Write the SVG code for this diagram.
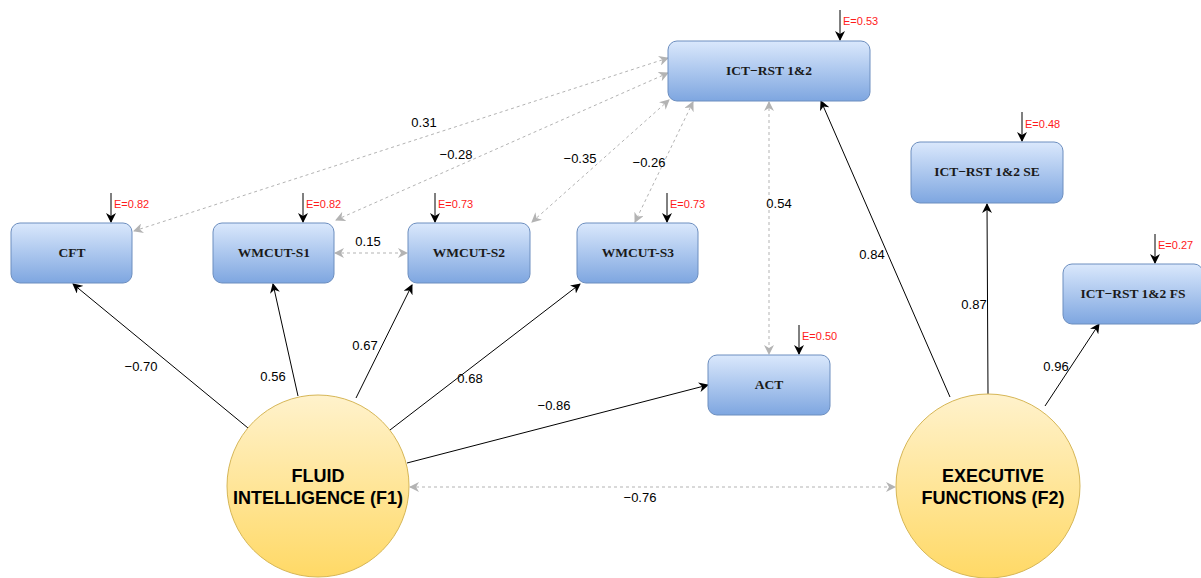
<svg xmlns="http://www.w3.org/2000/svg" width="1201" height="578" viewBox="0 0 1201 578">
  <defs>
    <linearGradient id="boxFill" x1="0" y1="0" x2="0" y2="1">
      <stop offset="0" stop-color="#dae8fc"/>
      <stop offset="1" stop-color="#7ea6e0"/>
    </linearGradient>
    <linearGradient id="factorFill" x1="0" y1="0" x2="0" y2="1">
      <stop offset="0" stop-color="#fff2cc"/>
      <stop offset="1" stop-color="#ffd966"/>
    </linearGradient>
    <marker id="arrowBlack" viewBox="0 0 10 10" refX="9" refY="5" markerWidth="10" markerHeight="10" markerUnits="userSpaceOnUse" orient="auto">
      <path d="M0,0 L10,5 L0,10 L3,5 Z" fill="#000"/>
    </marker>
    <marker id="arrowGray" viewBox="0 0 10 10" refX="9" refY="5" markerWidth="10" markerHeight="10" markerUnits="userSpaceOnUse" orient="auto-start-reverse">
      <path d="M0,0 L10,5 L0,10 L3,5 Z" fill="#b3b3b3"/>
    </marker>
  </defs>
  <style>
    .box { fill: url(#boxFill); stroke: #6c8ebf; stroke-width: 1; }
    .factor { fill: url(#factorFill); stroke: #d6b656; stroke-width: 1; }
    .boxText { font-family: "Liberation Serif", "Times New Roman", serif; font-weight: bold; font-size: 13.5px; fill: #1a1a1a; text-anchor: middle; }
    .factorText { font-family: "Liberation Sans", Arial, sans-serif; font-weight: bold; font-size: 18px; fill: #000; text-anchor: middle; }
    .path { stroke: #000; stroke-width: 1; fill: none; marker-end: url(#arrowBlack); }
    .cov { stroke: #b3b3b3; stroke-width: 1; stroke-dasharray: 3 3; fill: none; marker-start: url(#arrowGray); marker-end: url(#arrowGray); }
    .err { stroke: #000; stroke-width: 1; fill: none; marker-end: url(#arrowBlack); }
    .lbl { font-family: "Liberation Sans", Arial, sans-serif; font-size: 13px; fill: #000; text-anchor: middle; }
    .elbl { font-family: "Liberation Sans", Arial, sans-serif; font-size: 11px; fill: #ff1a1a; }
  </style>

  <!-- connectors -->
  <g id="connectors">
    <!-- covariances -->
    <line class="cov" x1="668" y1="58" x2="134" y2="231"/>
    <line class="cov" x1="668" y1="73" x2="336" y2="220"/>
    <line class="cov" x1="669" y1="100" x2="532" y2="222"/>
    <line class="cov" x1="693" y1="102" x2="635" y2="222"/>
    <line class="cov" x1="769" y1="102" x2="769" y2="354"/>
    <line class="cov" x1="335" y1="253" x2="407" y2="253"/>
    <line class="cov" x1="410" y1="487" x2="895" y2="487"/>
    <!-- loadings of F1 -->
    <line class="path" x1="248" y1="428" x2="73" y2="284"/>
    <line class="path" x1="298" y1="396" x2="273" y2="284"/>
    <line class="path" x1="356" y1="398" x2="412" y2="285"/>
    <line class="path" x1="390" y1="430" x2="580" y2="284"/>
    <line class="path" x1="407" y1="463" x2="708" y2="385"/>
    <!-- loadings of F2 -->
    <line class="path" x1="950" y1="397" x2="821" y2="101"/>
    <line class="path" x1="988" y1="394" x2="987" y2="204"/>
    <line class="path" x1="1045" y1="406" x2="1099" y2="324"/>
    <!-- residual errors -->
    <line class="err" x1="840" y1="10" x2="840" y2="40"/>
    <line class="err" x1="111" y1="193" x2="111" y2="222"/>
    <line class="err" x1="303" y1="193" x2="303" y2="222"/>
    <line class="err" x1="435" y1="193" x2="435" y2="222"/>
    <line class="err" x1="667" y1="193" x2="667" y2="222"/>
    <line class="err" x1="1022" y1="112" x2="1022" y2="141"/>
    <line class="err" x1="1155" y1="234" x2="1155" y2="263"/>
    <line class="err" x1="799" y1="325" x2="799" y2="354"/>
    <!-- coefficient labels -->
    <text class="lbl" x="424" y="127">0.31</text>
    <text class="lbl" x="456" y="159">−0.28</text>
    <text class="lbl" x="580" y="163">−0.35</text>
    <text class="lbl" x="649" y="167">−0.26</text>
    <text class="lbl" x="779" y="208">0.54</text>
    <text class="lbl" x="368" y="246">0.15</text>
    <text class="lbl" x="141" y="371">−0.70</text>
    <text class="lbl" x="273" y="381">0.56</text>
    <text class="lbl" x="365" y="350">0.67</text>
    <text class="lbl" x="470" y="383">0.68</text>
    <text class="lbl" x="554" y="410">−0.86</text>
    <text class="lbl" x="640" y="502">−0.76</text>
    <text class="lbl" x="872" y="259">0.84</text>
    <text class="lbl" x="974" y="309">0.87</text>
    <text class="lbl" x="1056" y="371">0.96</text>
    <!-- error labels -->
    <text class="elbl" x="843" y="25">E=0.53</text>
    <text class="elbl" x="114" y="208">E=0.82</text>
    <text class="elbl" x="306" y="208">E=0.82</text>
    <text class="elbl" x="438" y="208">E=0.73</text>
    <text class="elbl" x="670" y="208">E=0.73</text>
    <text class="elbl" x="1025" y="128">E=0.48</text>
    <text class="elbl" x="1158" y="249">E=0.27</text>
    <text class="elbl" x="802" y="340">E=0.50</text>
  </g>

  <g id="node-ict">
    <rect class="box" x="668" y="41" width="202" height="60" rx="9"/>
    <text class="boxText" x="769" y="75">ICT−RST 1&amp;2</text>
  </g>
  <g id="node-cft">
    <rect class="box" x="11" y="223" width="121" height="60" rx="9"/>
    <text class="boxText" x="72" y="257">CFT</text>
  </g>
  <g id="node-wmcut-s1">
    <rect class="box" x="213" y="223" width="121" height="60" rx="9"/>
    <text class="boxText" x="274" y="257">WMCUT-S1</text>
  </g>
  <g id="node-wmcut-s2">
    <rect class="box" x="408" y="223" width="122" height="60" rx="9"/>
    <text class="boxText" x="469" y="257">WMCUT-S2</text>
  </g>
  <g id="node-wmcut-s3">
    <rect class="box" x="577" y="223" width="121" height="60" rx="9"/>
    <text class="boxText" x="638" y="257">WMCUT-S3</text>
  </g>
  <g id="node-ict-se">
    <rect class="box" x="911" y="142" width="152" height="61" rx="9"/>
    <text class="boxText" x="987" y="176">ICT−RST 1&amp;2 SE</text>
  </g>
  <g id="node-ict-fs">
    <rect class="box" x="1063" y="264" width="140" height="60" rx="9"/>
    <text class="boxText" x="1133" y="298">ICT−RST 1&amp;2 FS</text>
  </g>
  <g id="node-act">
    <rect class="box" x="708" y="355" width="122" height="60" rx="9"/>
    <text class="boxText" x="769" y="389">ACT</text>
  </g>
  <g id="node-f1">
    <circle class="factor" cx="318" cy="486" r="91"/>
    <text class="factorText" x="318" y="482">FLUID</text>
    <text class="factorText" x="318" y="504">INTELLIGENCE (F1)</text>
  </g>
  <g id="node-f2">
    <circle class="factor" cx="988" cy="486" r="92"/>
    <text class="factorText" x="993" y="482">EXECUTIVE</text>
    <text class="factorText" x="993" y="504">FUNCTIONS (F2)</text>
  </g>
</svg>
